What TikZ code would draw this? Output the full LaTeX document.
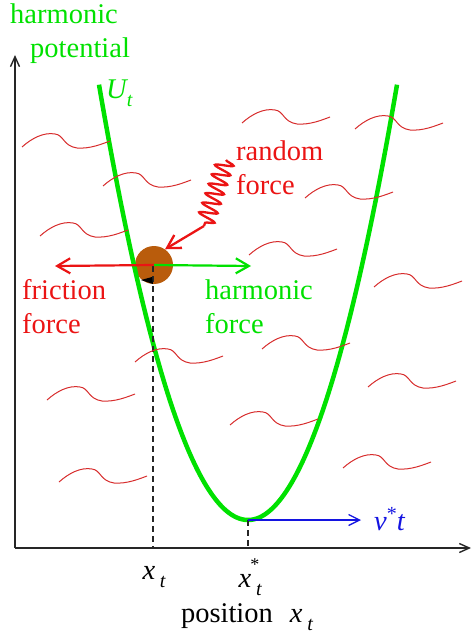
\documentclass[tikz,border=0pt]{standalone}
\usepackage{fontspec}
\setmainfont{Liberation Serif}
\usetikzlibrary{arrows.meta,decorations.pathmorphing}
\definecolor{gr}{RGB}{0,225,0}
\definecolor{rd}{RGB}{235,20,20}
\definecolor{sq}{RGB}{215,45,45}
\definecolor{bl}{RGB}{20,20,225}
\definecolor{ballc}{RGB}{185,92,12}
\newcommand{\isub}[2]{{\itshape #1}\raisebox{-0.28em}{\fontsize{20}{20}\selectfont\itshape #2}}
\begin{document}
\begin{tikzpicture}[x=1pt,y=-1pt,
  lab/.style={font=\fontsize{28.5}{34}\selectfont, inner sep=0pt, align=left},
  barb/.style={-{Straight Barb[length=13pt,width=15pt]}},
  axisline/.style={draw=black!85, line width=1.4pt, -{Straight Barb[length=10pt,width=9pt]}},
  dashline/.style={draw=black!85, line width=1.2pt, dash pattern=on 6pt off 4pt},
  squig/.pic={\draw[sq, line width=1pt] (0,0) .. controls (10,-9) and (22,-15) .. (33,-13) .. controls (42,-12) and (41,-1) .. (55,1) .. controls (68,2) and (80,-3) .. (88,-6);}
]
\useasboundingbox (0,0) rectangle (472,636);
% axes
\coordinate (O) at (15,548);
\coordinate (ytop) at (15,55);
\coordinate (xend) at (471,548);
\draw[axisline] (O) -- (ytop);
\draw[axisline] (O) -- (xend);
% ball
\node[circle, fill=ballc, minimum size=38pt, inner sep=0pt] (ball) at (154,265) {};
% parabola
\coordinate (pmin) at (248,520);
\draw[gr, line width=4.5pt] plot[domain=99:397, samples=120, smooth] ({\x},{520-0.0196*(\x-248)*(\x-248)});
% dashed lines
\coordinate (xt) at (153,548);
\coordinate (xs) at (248,548);
\draw[dashline] (153,266) -- (xt);
\draw[dashline] (pmin) -- (xs);
\fill[black] (141,280) -- (152,277) -- (153,284) -- cycle;
% squiggles
\foreach \p in {(22,147),(242,123),(355,129),(103,186),(305,198),(40,236),(249,255),(374,287),(262,349),(135,362),(368,387),(47,400),(230,425),(343,468),(59,482)}
  \pic at \p {squig};
% forces
\coordinate (fl) at (55,266);
\coordinate (hr) at (251,266);
\draw[rd, line width=2.2pt, barb] (ball.center) -- (fl);
\draw[gr, line width=2.2pt, barb] (ball.center) -- (hr);
\coordinate (rs) at (226,160);
\coordinate (re) at (204,226);
\draw[rd, line width=2.3pt, decorate, decoration={snake, amplitude=9pt, segment length=10pt}] (rs) -- (re);
\draw[rd, line width=2.3pt, barb] (re) -- (ball.55);
% blue arrow
\coordinate (vt) at (361,520);
\draw[bl, line width=1.3pt, -{Straight Barb[length=11pt,width=11pt]}] (pmin) -- (vt);
% labels
\node[lab, text=gr, anchor=north west] (hp) at (10,4) {harmonic\\\hspace*{20pt}potential};
\node[lab, text=gr, anchor=west] (U) at (106,93) {\isub{U}{t}};
\node[lab, text=rd, anchor=west] (rf) at (236,168) {random\\force};
\node[lab, text=rd, anchor=west] (ff) at (22,307) {friction\\force};
\node[lab, text=gr, anchor=west] (hf) at (205,307) {harmonic\\force};
\node[lab, text=bl, anchor=west] (v) at (374,519) {{\itshape v}\raisebox{0.35em}{\fontsize{20}{20}\selectfont *}{\itshape t}};
\node[lab, anchor=center] (lx) at (154,577) {{\itshape x}\,\raisebox{-0.28em}{\fontsize{20}{20}\selectfont\itshape t}};
\node[lab, anchor=center] (lxs) at (249,577) {{\itshape x}\,\raisebox{-0.28em}{\fontsize{20}{20}\selectfont\itshape t}\hspace*{-0.4em}\raisebox{0.6em}{\fontsize{18}{18}\selectfont *}};
\node[lab, anchor=center] (pos) at (247,617) {position\hspace{0.6em}{\itshape x}\,\raisebox{-0.28em}{\fontsize{20}{20}\selectfont\itshape t}};
\end{tikzpicture}
\end{document}
